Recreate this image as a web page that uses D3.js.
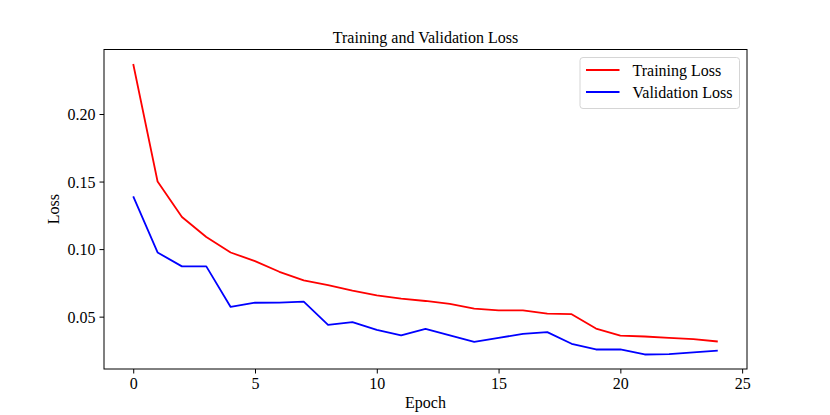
<!DOCTYPE html>
<html lang="en">
<head>
  <meta charset="UTF-8" />
  <title>Training and Validation Loss</title>
  <style>
    body { margin: 0; background: white; }
    text { font-family: "Liberation Serif", "Times New Roman", serif; fill: black; }
  </style>
</head>
<body>
  <svg id="chart" width="830" height="415"></svg>

  <script src="https://d3js.org/d3.v7.min.js"></script>
  <script>
    const epochs = d3.range(0, 25);
    const trainingLoss = [0.237, 0.150, 0.1238, 0.109, 0.0975, 0.0911, 0.0832, 0.0768, 0.0734, 0.0692,
      0.0658, 0.0633, 0.0616, 0.0594, 0.0559, 0.0547, 0.0547, 0.0522, 0.0518, 0.0412,
      0.036, 0.0353, 0.0343, 0.0333, 0.0316];
    const validationLoss = [0.139, 0.0975, 0.0872, 0.0872, 0.0572, 0.0603, 0.0604, 0.0611, 0.0439, 0.0459,
      0.0402, 0.0361, 0.041, 0.0362, 0.0313, 0.0343, 0.0372, 0.0385, 0.0299, 0.0257,
      0.0257, 0.022, 0.0223, 0.0235, 0.0249];
    const xTicks = [0, 5, 10, 15, 20, 25];
    const yTicks = [0.05, 0.10, 0.15, 0.20];

    const series = [
      { name: "Training Loss", color: "#ff0000", values: trainingLoss },
      { name: "Validation Loss", color: "#0000ff", values: validationLoss }
    ];

    const margin = { left: 104, right: 83, top: 49.5, bottom: 46 };
    const W = 830, H = 415;
    const svg = d3.select("#chart");

    // matplotlib style 5% padding around the data
    const xPad = (d3.max(epochs) - d3.min(epochs)) * 0.05;
    const allY = trainingLoss.concat(validationLoss);
    const yPad = (d3.max(allY) - d3.min(allY)) * 0.05;

    const x = d3.scaleLinear()
      .domain([d3.min(epochs) - xPad, d3.max(epochs) + xPad])
      .range([margin.left, W - margin.right]);
    const y = d3.scaleLinear()
      .domain([d3.min(allY) - yPad, d3.max(allY) + yPad])
      .range([H - margin.bottom, margin.top]);

    const fontSize = "16px";

    const xAxis = svg.append("g")
      .attr("transform", `translate(0,${H - margin.bottom})`)
      .call(d3.axisBottom(x).tickValues(xTicks).tickFormat(d3.format("d")).tickSizeOuter(0).tickSize(4.5).tickPadding(4));
    const yAxis = svg.append("g")
      .attr("transform", `translate(${margin.left},0)`)
      .call(d3.axisLeft(y).tickValues(yTicks).tickFormat(d3.format(".2f")).tickSizeOuter(0).tickSize(4.5).tickPadding(4));

    [xAxis, yAxis].forEach(a => {
      a.select(".domain").remove();
      a.selectAll("line").attr("stroke", "black").attr("stroke-width", 1);
      a.selectAll("text").style("font-size", fontSize).attr("font-family", null);
    });
    yAxis.selectAll("text").attr("dy", "0.34em");

    // lines
    const line = d3.line()
      .x((d, i) => x(epochs[i]))
      .y(d => y(d));

    svg.append("g")
      .selectAll("path")
      .data(series)
      .enter()
      .append("path")
      .attr("d", d => line(d.values))
      .attr("fill", "none")
      .attr("stroke", d => d.color)
      .attr("stroke-width", 1.8)
      .attr("stroke-linejoin", "round");

    // frame
    svg.append("rect")
      .attr("x", margin.left)
      .attr("y", margin.top)
      .attr("width", W - margin.left - margin.right)
      .attr("height", H - margin.top - margin.bottom)
      .attr("fill", "none")
      .attr("stroke", "black")
      .attr("stroke-width", 1);

    // title and labels
    svg.append("text")
      .attr("x", (margin.left + W - margin.right) / 2)
      .attr("y", 42.5)
      .attr("text-anchor", "middle")
      .style("font-size", fontSize)
      .text("Training and Validation Loss");

    svg.append("text")
      .attr("x", (margin.left + W - margin.right) / 2)
      .attr("y", 408)
      .attr("text-anchor", "middle")
      .style("font-size", fontSize)
      .text("Epoch");

    svg.append("text")
      .attr("transform", `translate(59,${(margin.top + H - margin.bottom) / 2}) rotate(-90)`)
      .attr("text-anchor", "middle")
      .style("font-size", fontSize)
      .text("Loss");

    // legend
    const legend = svg.append("g");
    legend.append("rect")
      .attr("x", 580)
      .attr("y", 57.5)
      .attr("width", 159.5)
      .attr("height", 51)
      .attr("rx", 3)
      .attr("fill", "white")
      .attr("fill-opacity", 0.8)
      .attr("stroke", "#d5d5d5")
      .attr("stroke-width", 1);

    const item = legend.selectAll(".item")
      .data(series)
      .enter()
      .append("g")
      .attr("class", "item")
      .attr("transform", (d, i) => `translate(0,${70 + i * 22})`);

    item.append("line")
      .attr("x1", 586)
      .attr("x2", 619.5)
      .attr("stroke", d => d.color)
      .attr("stroke-width", 1.8);

    item.append("text")
      .attr("x", 632.5)
      .attr("dy", "0.36em")
      .style("font-size", fontSize)
      .text(d => d.name);
  </script>
</body>
</html>
